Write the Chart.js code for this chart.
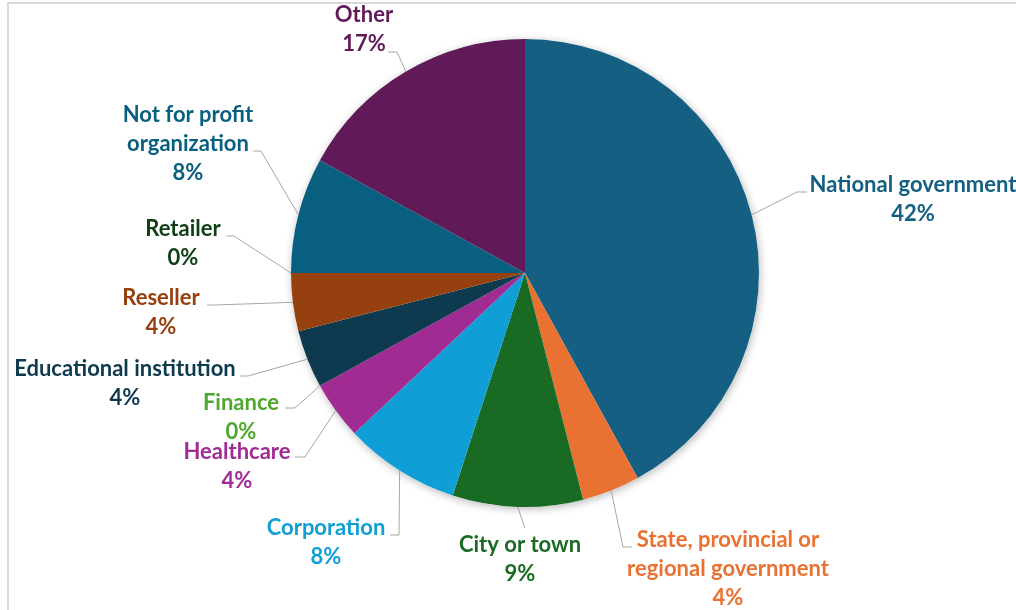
<!DOCTYPE html>
<html>
<head>
<meta charset="utf-8">
<script src="https://cdn.jsdelivr.net/npm/chart.js@4.4.1/dist/chart.umd.min.js"></script>
<style>
  html, body { margin: 0; padding: 0; background: #fff; overflow: hidden; }
  #frame {
    position: absolute; left: 7px; top: 2px; width: 1020px; height: 620px;
    border-left: 2px solid #d9d9d9; border-top: 2px solid #d9d9d9;
  }
  #wrap { position: absolute; left: 0; top: 0; width: 1016px; height: 610px; }
</style>
</head>
<body>
<div id="frame"></div>
<div id="wrap"><canvas id="graficoClientes" width="1016" height="610"></canvas></div>
<script>
var categorias = [
  "National government",
  ["State, provincial or", "regional government"],
  "City or town",
  "Corporation",
  "Healthcare",
  "Finance",
  "Educational institution",
  "Reseller",
  "Retailer",
  ["Not for profit", "organization"],
  "Other",
];
var percentuais = [42, 4, 9, 8, 4, 0, 4, 4, 0, 8, 17];
var cores = [
  "#156082",
  "#E97132",
  "#196B24",
  "#0F9ED5",
  "#A02B93",
  "#4EA72E",
  "#0D3A4E",
  "#97400F",
  "#0F4016",
  "#095F80",
  "#601A58",
];

// posicao de cada rotulo: centro do texto, cotovelo e fim da linha guia
var rotulos = [
  { x: 913, y: 185, cotovelo: [797, 192], fim: [807, 192] },
  { x: 728, y: 540, cotovelo: [623, 547], fim: [632, 547] },
  { x: 520, y: 545, cotovelo: [525, 528], fim: [525, 528] },
  { x: 326, y: 528, cotovelo: [399, 535], fim: [390, 535] },
  { x: 237, y: 452, cotovelo: [305, 457], fim: [295, 457] },
  { x: 241, y: 403, cotovelo: [295, 408], fim: [285, 408] },
  { x: 125, y: 369, cotovelo: [248, 376], fim: [240, 376] },
  { x: 161, y: 298, cotovelo: [215, 305], fim: [207, 305] },
  { x: 183, y: 229, cotovelo: [234, 236], fim: [227, 236] },
  { x: 188, y: 115, cotovelo: [261, 151], fim: [253, 151] },
  { x: 364, y: 15, cotovelo: [397, 52], fim: [388, 52] },
];

var sombraPizza = {
  id: "sombraPizza",
  beforeDatasetsDraw: function (chart) {
    var arco = chart.getDatasetMeta(0).data[0];
    var ctx = chart.ctx;
    ctx.save();
    ctx.shadowColor = "rgba(0, 0, 0, 0.28)";
    ctx.shadowBlur = 9;
    ctx.shadowOffsetX = 1;
    ctx.shadowOffsetY = 2;
    ctx.fillStyle = "#ffffff";
    ctx.beginPath();
    ctx.arc(arco.x, arco.y, arco.outerRadius, 0, Math.PI * 2);
    ctx.fill();
    ctx.restore();
  },
};

var rotulosPizza = {
  id: "rotulosPizza",
  afterDatasetsDraw: function (chart) {
    var ctx = chart.ctx;
    var meta = chart.getDatasetMeta(0);
    ctx.save();
    meta.data.forEach(function (arco, i) {
      var r = rotulos[i];
      var meio = (arco.startAngle + arco.endAngle) / 2;
      var px = arco.x + Math.cos(meio) * arco.outerRadius;
      var py = arco.y + Math.sin(meio) * arco.outerRadius;

      ctx.strokeStyle = "#a6a6a6";
      ctx.lineWidth = 1;
      ctx.beginPath();
      ctx.moveTo(px, py);
      ctx.lineTo(r.cotovelo[0], r.cotovelo[1]);
      ctx.lineTo(r.fim[0], r.fim[1]);
      ctx.stroke();

      var linhas = [].concat(categorias[i], percentuais[i] + "%");
      ctx.fillStyle = cores[i];
      ctx.font = "bold 22px Lato";
      ctx.textAlign = "center";
      ctx.textBaseline = "middle";
      linhas.forEach(function (t, k) {
        ctx.fillText(t, r.x, r.y + k * 29);
      });
    });
    ctx.restore();
  },
};

var ctx1 = document.getElementById("graficoClientes").getContext("2d");
var graficoClientes = new Chart(ctx1, {
  type: "pie",
  data: {
    labels: categorias,
    datasets: [
      {
        data: percentuais,
        backgroundColor: cores,
        borderWidth: 0,
      },
    ],
  },
  options: {
    responsive: false,
    animation: false,
    layout: {
      padding: { left: 291, right: 257, top: 39, bottom: 103 },
    },
    plugins: {
      legend: { display: false },
      tooltip: { enabled: false },
    },
  },
  plugins: [sombraPizza, rotulosPizza],
});
</script>
</body>
</html>
